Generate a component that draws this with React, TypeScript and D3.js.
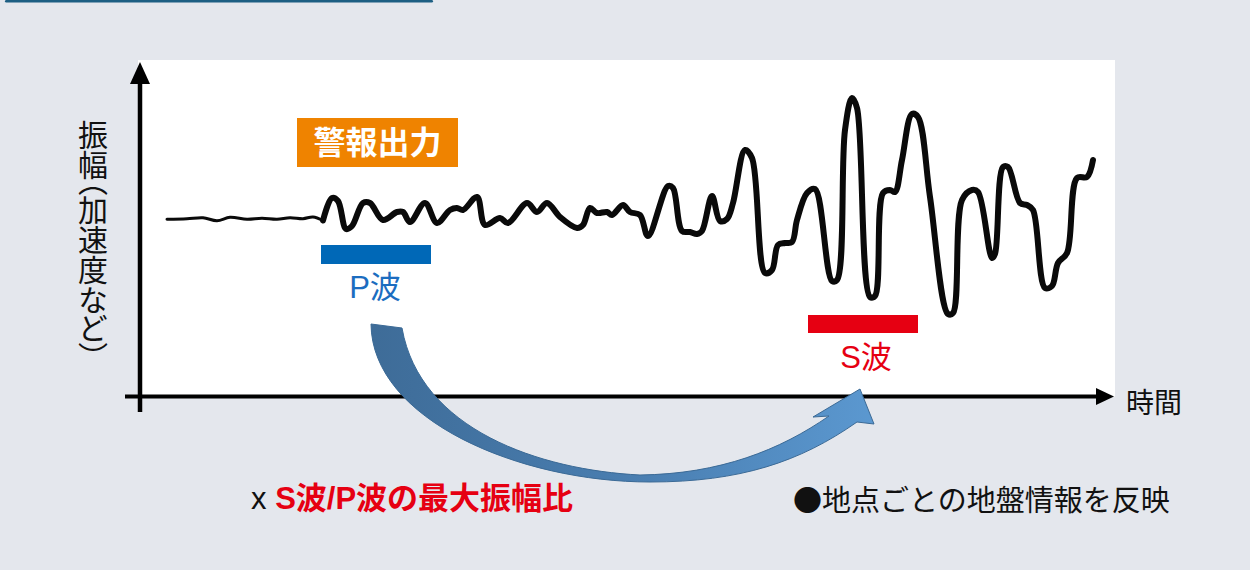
import * as d3 from 'd3'

// Schematic seismogram: time (arbitrary units from the y axis) vs amplitude
const quietT = [27, 47, 63, 77, 90, 107, 122, 137, 150, 163, 173, 183]
const quietA = [-1.3, -0.7, 0.3, -2.7, 0.7, -1.3, -0.3, -1.3, 0.3, -0.7, 1, -2.5]

const waveT = [
  183, 192, 198, 206, 212, 223, 230, 243, 257, 263, 270, 285, 297, 310, 317, 323, 337, 345, 360, 368,
  387, 397, 407, 420, 437, 443, 450, 457, 467, 472, 483, 490, 500, 508, 528, 533, 542, 550, 557, 562,
  572, 580, 587, 593, 605, 612, 625, 632, 638, 645, 652, 657, 667, 675, 692, 697, 705, 712, 717, 730,
  735, 743, 750, 755, 762, 772, 778, 790, 808, 813, 822, 832, 838, 852, 855, 863, 868, 880, 887, 893,
  905, 912, 918, 927, 937, 947, 953,
]
const waveA = [
  -2.5, 20, 17, -11, -8, 15, 15, -2, 6, 6, -4, 15, -5, 8, 10, 8, 21, -7, 0, -5,
  15, 6, 15, 1, -10, -7, 10, 5, 6, 3, 13, 6, 3, -18, 32, 30, -13, -14, -16, -13,
  22, -3, -1, 15, 68, 60, -55, -52, -27, -25, -24, -2, 25, 29, -63, -62, 88, 120, 110, -79,
  -78, 25, 28, 26, 58, 104, 101, 21, -96, -95, 18, 28, 26, -40, -36, 51, 51, 15, 13, 8,
  -70, -68, -45, -35, 40, 41, 58,
]

const yLabel = '振幅（加速度など）'
const xLabel = '時間'
const alertLabel = '警報出力'
const pLabel = 'P波'
const sLabel = 'S波'
const ratioPrefix = 'x '
const ratioLabel = 'S波/P波の最大振幅比'
const siteLabel = '●地点ごとの地盤情報を反映'

const W = 1250
const H = 570
const FONT = '"Liberation Sans", "Noto Sans CJK JP", sans-serif'
const CJK = '"Noto Sans CJK JP", sans-serif'

export default function App() {
  const x = d3.scaleLinear().domain([0, 975]).range([140, 1115])
  const y = d3.scaleLinear().domain([-100, 100]).range([318, 118])

  const line = d3
    .line<[number, number]>()
    .x((d) => x(d[0]))
    .y((d) => y(d[1]))
    .curve(d3.curveCatmullRom.alpha(0.5))

  const quiet = quietT.map((t, i) => [t, quietA[i]] as [number, number])
  const wave = waveT.map((t, i) => [t, waveA[i]] as [number, number])

  const x0 = x(0)
  const xEnd = x(975)
  const yTop = y(158)
  const yAxis = y(-178.5)

  return (
    <svg
      width={W}
      height={H}
      style={{ position: 'absolute', left: 0, top: 0, fontFamily: FONT }}
    >
      <defs>
        <linearGradient id="arrowGrad" x1="0" y1="0" x2="1" y2="0">
          <stop offset="0%" stopColor="#3e6c98" />
          <stop offset="55%" stopColor="#4a7fb2" />
          <stop offset="100%" stopColor="#5b98d0" />
        </linearGradient>
      </defs>
      <rect x={0} y={0} width={W} height={H} fill="#e4e7ed" />
      <rect x={5} y={0} width={428} height={2.5} rx={1.2} fill="#1d5f83" />

      {/* plot panel */}
      <rect x={x0 - 2} y={yTop} width={xEnd - x0 + 2} height={yAxis - yTop} fill="#ffffff" />

      {/* waveform */}
      <path d={line(quiet) ?? ''} fill="none" stroke="#0a0a0a" strokeWidth={3} strokeLinecap="round" />
      <path
        d={line(wave) ?? ''}
        fill="none"
        stroke="#0a0a0a"
        strokeWidth={6}
        strokeLinejoin="round"
        strokeLinecap="round"
      />

      {/* axes */}
      <line x1={x0} x2={x0} y1={412} y2={80} stroke="#000" strokeWidth={4.5} />
      <path d={`M${x0},62 L${x0 - 10},84 L${x0 + 10},84 Z`} fill="#000" />
      <line x1={125} x2={1097} y1={yAxis} y2={yAxis} stroke="#000" strokeWidth={4} />
      <path d={`M1114,${yAxis} L1096,${yAxis - 8.5} L1096,${yAxis + 8.5} Z`} fill="#000" />

      {/* alert box */}
      <rect x={297} y={118} width={161} height={49} fill="#ef8300" />
      <text x={377.5} y={143} textAnchor="middle" dominantBaseline="central" fill="#fff" fontSize={32} fontWeight={700}>
        {alertLabel}
      </text>

      {/* P / S bars */}
      <rect x={321} y={245} width={110} height={19} fill="#0068b7" />
      <text x={375} y={287} textAnchor="middle" dominantBaseline="central" fill="#1c6dc0" fontSize={31}>
        {pLabel}
      </text>
      <rect x={808} y={315} width={110} height={18} fill="#e60012" />
      <text x={866} y={357} textAnchor="middle" dominantBaseline="central" fill="#e60012" fontSize={31}>
        {sLabel}
      </text>

      {/* curved arrow */}
      <path
        d="M371,324 C372,420 520,482 650,482 C740,482 800,462 857,422 L874,424 L860,389 L813,417 L829,416 C780,450 720,474 640,475 C540,470 420,430 402,328 Z"
        fill="url(#arrowGrad)"
        stroke="#3b6a96"
        strokeWidth={1}
      />

      {/* labels */}
      <text
        x={93}
        y={120}
        fill="#111"
        fontSize={30}
        fontFamily={CJK}
        style={{ writingMode: 'vertical-rl', fontFeatureSettings: '"vpal"' }}
      >
        {yLabel}
      </text>
      <text x={1126} y={401} dominantBaseline="central" fill="#111" fontSize={28} fontFamily={CJK}>
        {xLabel}
      </text>
      <text x={251} y={498} dominantBaseline="central" fontSize={31}>
        <tspan fill="#111">{ratioPrefix}</tspan>
        <tspan fill="#e60012" fontWeight={700}>{ratioLabel}</tspan>
      </text>
      <text x={793} y={498} dominantBaseline="central" fill="#111" fontSize={29} fontFamily={CJK}>
        {siteLabel}
      </text>
    </svg>
  )
}
